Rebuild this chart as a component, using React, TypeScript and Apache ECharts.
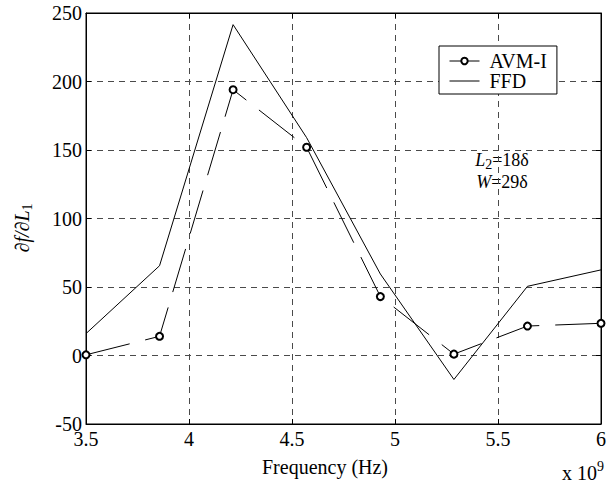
import React, { useEffect, useRef } from 'react';
import * as echarts from 'echarts';

// Frequency in units of 1e9 Hz
const freqs = [3.5, 3.857, 4.214, 4.571, 4.929, 5.286, 5.643, 6.0];
const avmValues = [0.5, 14, 194, 152, 43, 1, 21.5, 23.5];
const ffdValues = [16, 65.5, 241.5, 159, 59.5, -17.5, 50.5, 62.5];
const seriesNames = ['AVM-I', 'FFD'];
const xTickMin = 3.5;
const xTickMax = 6;
const xTickStep = 0.5;
const yTickMin = -50;
const yTickMax = 250;
const yTickStep = 50;

const FONT = 'Liberation Serif';
const FS = 20;

export default function App() {
  const ref = useRef<HTMLDivElement>(null);
  useEffect(() => {
    if (!ref.current) return;
    const chart = echarts.init(ref.current, undefined, { renderer: 'svg' });
    const avm = freqs.map((f, i) => [f, avmValues[i]]);
    const ffd = freqs.map((f, i) => [f, ffdValues[i]]);
    const gridLine = { show: true, lineStyle: { color: '#4a4a4a', width: 1, type: [6, 5] as any } };
    const axisLabel = { color: '#000', fontFamily: FONT, fontSize: FS };
    const txt = (size: number, italic = false) => ({ fontFamily: FONT, fontSize: size, fontStyle: italic ? 'italic' : 'normal', fill: '#000' });
    chart.setOption({
      animation: false,
      backgroundColor: '#fff',
      textStyle: { fontFamily: FONT },
      grid: { left: 86, right: 3, top: 13, bottom: 61, show: true, borderColor: '#000', borderWidth: 1, backgroundColor: 'transparent' },
      legend: {
        show: true,
        data: [{ name: seriesNames[0] }, { name: seriesNames[1], itemStyle: { opacity: 0 } }],
        orient: 'vertical',
        left: 439,
        top: 46,
        padding: [5, 10, 3, 10],
        itemGap: 0,
        itemWidth: 30,
        itemHeight: 8,
        borderColor: '#000',
        borderWidth: 1,
        borderRadius: 0,
        backgroundColor: '#fff',
        lineStyle: { type: 'solid', width: 1 },
        textStyle: { color: '#000', fontFamily: FONT, fontSize: FS, lineHeight: 20, padding: [0, 0, 0, 5] },
      },
      xAxis: [
        {
          type: 'value', min: xTickMin, max: xTickMax, interval: xTickStep,
          axisLine: { show: true, onZero: false, lineStyle: { color: '#000', width: 1 } },
          axisTick: { show: true, inside: true, length: 5, lineStyle: { color: '#000' } },
          axisLabel: { ...axisLabel, margin: 5, formatter: (v: number) => String(v) },
          splitLine: gridLine,
        },
        {
          type: 'value', position: 'top', min: xTickMin, max: xTickMax, interval: xTickStep,
          axisLine: { show: true, onZero: false, lineStyle: { color: '#000', width: 1 } },
          axisTick: { show: true, inside: true, length: 5, lineStyle: { color: '#000' } },
          axisLabel: { show: false }, splitLine: { show: false },
        },
      ],
      yAxis: [
        {
          type: 'value', min: yTickMin, max: yTickMax, interval: yTickStep,
          axisLine: { show: true, onZero: false, lineStyle: { color: '#000', width: 1 } },
          axisTick: { show: true, inside: true, length: 5, lineStyle: { color: '#000' } },
          axisLabel: { ...axisLabel, margin: 4 },
          splitLine: gridLine,
        },
        {
          type: 'value', position: 'right', min: yTickMin, max: yTickMax, interval: yTickStep,
          axisLine: { show: true, onZero: false, lineStyle: { color: '#000', width: 1 } },
          axisTick: { show: true, inside: true, length: 5, lineStyle: { color: '#000' } },
          axisLabel: { show: false }, splitLine: { show: false },
        },
      ],
      series: [
        {
          name: seriesNames[0], type: 'line', data: avm,
          symbol: 'emptyCircle', symbolSize: 7,
          lineStyle: { color: '#000', width: 1, type: [45, 16] as any },
          itemStyle: { color: '#000', borderColor: '#000', borderWidth: 1 },
          z: 3,
        },
        {
          name: seriesNames[1], type: 'line', data: ffd,
          symbol: 'none', showSymbol: false,
          lineStyle: { color: '#000', width: 1, type: 'solid' },
          itemStyle: { color: '#000' },
          z: 2,
        },
      ],
      graphic: [
        {
          type: 'text', x: 22, y: 228, rotation: Math.PI / 2,
          style: {
            text: '{i|∂f/∂L}{sub|1}', align: 'center', verticalAlign: 'middle',
            rich: {
              i: { ...txt(FS, true), lineHeight: 24, verticalAlign: 'middle' },
              sub: { ...txt(14), lineHeight: 14, verticalAlign: 'bottom' },
            },
          },
        },
        {
          type: 'text', x: 325, y: 467,
          style: { text: 'Frequency (Hz)', ...txt(FS), align: 'center', verticalAlign: 'middle' },
        },
        {
          type: 'text', x: 562, y: 471,
          style: {
            text: '{n|x 10}{sup|9}', align: 'left', verticalAlign: 'middle',
            rich: {
              n: { ...txt(FS), lineHeight: 24, verticalAlign: 'bottom' },
              sup: { ...txt(14), lineHeight: 14, verticalAlign: 'top' },
            },
          },
        },
        {
          type: 'text', x: 502, y: 160,
          style: {
            text: '{i|L}{sub|2}{n|=18δ}', align: 'center', verticalAlign: 'middle',
            rich: {
              i: { ...txt(18, true), lineHeight: 22, verticalAlign: 'middle' },
              n: { ...txt(18), lineHeight: 22, verticalAlign: 'middle' },
              sub: { ...txt(14), lineHeight: 14, verticalAlign: 'bottom' },
            },
          },
        },
        {
          type: 'text', x: 502, y: 182,
          style: {
            text: '{i|W}{n|=29δ}', align: 'center', verticalAlign: 'middle',
            rich: {
              i: { ...txt(18, true), lineHeight: 22 },
              n: { ...txt(18), lineHeight: 22 },
            },
          },
        },
      ],
    });
    return () => chart.dispose();
  }, []);
  return <div ref={ref} style={{ width: 609, height: 485, position: 'absolute', left: 0, top: 0 }} />;
}
